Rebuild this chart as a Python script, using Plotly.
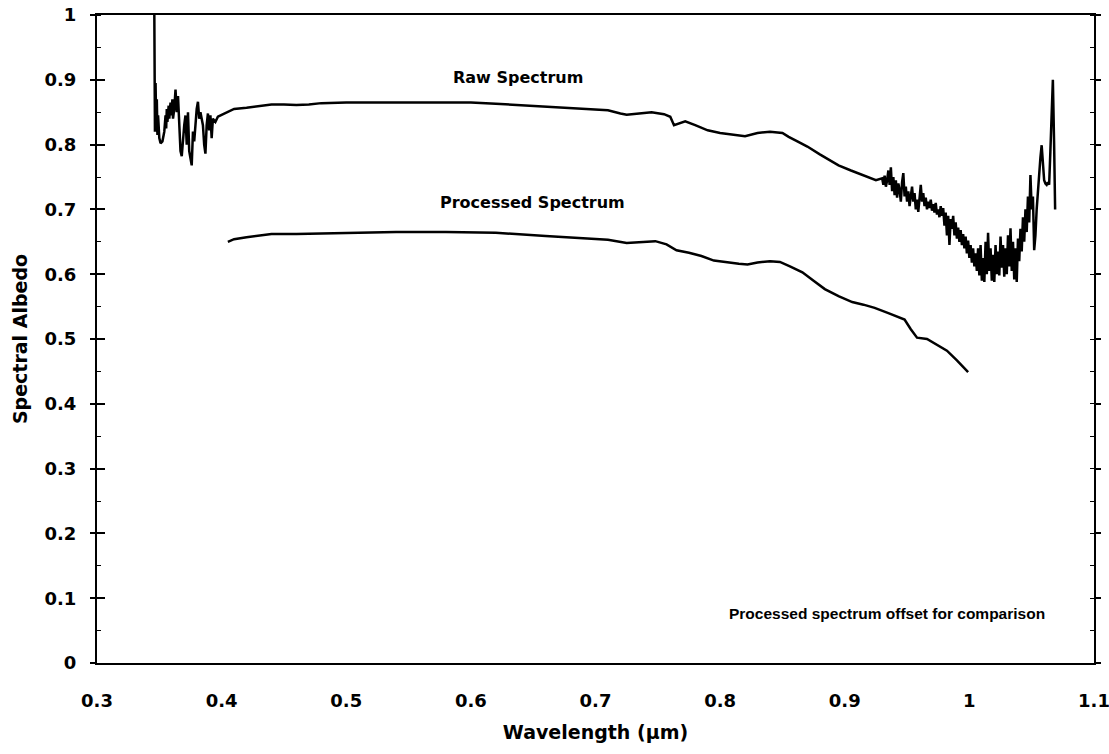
import plotly.graph_objects as go

# ---- data ----
raw_wavelength = [
    0.3460, 0.3462, 0.3465, 0.3470, 0.3475, 0.3480, 0.3485, 0.3490, 0.3500, 0.3510,
    0.3525, 0.3540, 0.3550, 0.3555, 0.3560, 0.3565, 0.3575, 0.3580, 0.3590, 0.3595,
    0.3605, 0.3610, 0.3620, 0.3630, 0.3640, 0.3650, 0.3660, 0.3670, 0.3680, 0.3690,
    0.3700, 0.3710, 0.3720, 0.3730, 0.3740, 0.3760, 0.3770, 0.3780, 0.3790, 0.3800,
    0.3810, 0.3820, 0.3830, 0.3850, 0.3860, 0.3870, 0.3880, 0.3890, 0.3900, 0.3910,
    0.3920, 0.3930, 0.3950, 0.3970, 0.4000, 0.4050, 0.4100, 0.4200, 0.4300, 0.4400,
    0.4500, 0.4600, 0.4700, 0.4800, 0.5000, 0.5200, 0.5400, 0.5600, 0.5800, 0.6000,
    0.6200, 0.6400, 0.6600, 0.6800, 0.7000, 0.7100, 0.7200, 0.7250, 0.7350, 0.7450,
    0.7550, 0.7600, 0.7630, 0.7660, 0.7720, 0.7800, 0.7900, 0.8000, 0.8100, 0.8200,
    0.8300, 0.8400, 0.8500, 0.8550, 0.8620, 0.8700, 0.8800, 0.8870, 0.8950, 0.9050,
    0.9150, 0.9250,
    0.930, 0.931, 0.932, 0.933, 0.934, 0.935, 0.936, 0.937, 0.938, 0.939,
    0.940, 0.941, 0.942, 0.943, 0.944, 0.945, 0.946, 0.947, 0.948, 0.949,
    0.950, 0.951, 0.952, 0.953, 0.954, 0.955, 0.956, 0.957, 0.958, 0.959,
    0.960, 0.961, 0.962, 0.963, 0.964, 0.965, 0.966, 0.967, 0.968, 0.969,
    0.970, 0.971, 0.972, 0.973, 0.974, 0.975, 0.976, 0.977, 0.978, 0.979,
    0.980, 0.981, 0.982, 0.983, 0.984, 0.985, 0.986, 0.987, 0.988, 0.989,
    0.990, 0.991, 0.992, 0.993, 0.994, 0.995, 0.996, 0.997, 0.998, 0.999,
    1.000, 1.001, 1.002, 1.003, 1.004, 1.005, 1.006, 1.007, 1.008, 1.009,
    1.010, 1.011, 1.012, 1.013, 1.014, 1.015, 1.016, 1.017, 1.018, 1.019,
    1.020, 1.021, 1.022, 1.023, 1.024, 1.025, 1.026, 1.027, 1.028, 1.029,
    1.030, 1.031, 1.032, 1.033, 1.034, 1.035, 1.036, 1.037, 1.038, 1.039,
    1.040, 1.041, 1.042, 1.043, 1.044, 1.045, 1.046, 1.047, 1.048, 1.049,
    1.050, 1.051, 1.052, 1.053, 1.054, 1.055, 1.056, 1.057, 1.058, 1.059,
    1.060, 1.061, 1.062, 1.063, 1.064, 1.065, 1.066, 1.067, 1.068, 1.0688,
]
raw_albedo = [
    1.000, 0.880, 0.820, 0.895, 0.830, 0.870, 0.815, 0.845, 0.810, 0.802,
    0.805, 0.820, 0.845, 0.825, 0.855, 0.835, 0.860, 0.840, 0.865, 0.845,
    0.870, 0.840, 0.855, 0.885, 0.850, 0.875, 0.820, 0.790, 0.782, 0.810,
    0.830, 0.845, 0.800, 0.850, 0.790, 0.768, 0.820, 0.805, 0.840, 0.855,
    0.866, 0.840, 0.850, 0.830, 0.800, 0.786, 0.830, 0.848, 0.822, 0.845,
    0.810, 0.840, 0.835, 0.843, 0.846, 0.851, 0.855, 0.857, 0.860, 0.862,
    0.862, 0.861, 0.862, 0.864, 0.865, 0.865, 0.866, 0.866, 0.866, 0.865,
    0.863, 0.861, 0.858, 0.856, 0.854, 0.853, 0.848, 0.846, 0.848, 0.850,
    0.847, 0.843, 0.830, 0.832, 0.836, 0.830, 0.822, 0.818, 0.816, 0.813,
    0.818, 0.820, 0.818, 0.812, 0.805, 0.797, 0.785, 0.777, 0.768, 0.760,
    0.752, 0.745,
    0.748, 0.738, 0.752, 0.735, 0.745, 0.760, 0.738, 0.765, 0.728, 0.750,
    0.722, 0.745, 0.718, 0.740, 0.730, 0.712, 0.742, 0.756, 0.720, 0.735,
    0.712, 0.728, 0.705, 0.725, 0.735, 0.712, 0.725, 0.700, 0.715, 0.696,
    0.722, 0.738, 0.712, 0.725, 0.705, 0.718, 0.700, 0.712, 0.702, 0.715,
    0.698, 0.708, 0.695, 0.710, 0.692, 0.700, 0.688, 0.705, 0.690, 0.702,
    0.675, 0.695, 0.660, 0.690, 0.645, 0.685, 0.670, 0.690, 0.660, 0.680,
    0.655, 0.672, 0.650, 0.668, 0.645, 0.662, 0.640, 0.658, 0.632, 0.652,
    0.625, 0.645, 0.618, 0.640, 0.612, 0.632, 0.605, 0.640, 0.598, 0.645,
    0.590, 0.625, 0.588, 0.650, 0.600, 0.664, 0.605, 0.640, 0.590, 0.630,
    0.588, 0.645, 0.600, 0.635, 0.598, 0.658, 0.610, 0.645, 0.596, 0.640,
    0.600, 0.660, 0.612, 0.671, 0.605, 0.650, 0.592, 0.640, 0.588, 0.655,
    0.620, 0.670, 0.635, 0.688, 0.650, 0.700, 0.665, 0.720, 0.680, 0.753,
    0.700, 0.720, 0.637, 0.660, 0.700, 0.730, 0.750, 0.780, 0.799, 0.770,
    0.745, 0.740, 0.738, 0.742, 0.738, 0.790, 0.860, 0.900, 0.800, 0.700,
]

processed_wavelength = [
    0.405, 0.410, 0.420, 0.430, 0.440, 0.460, 0.480, 0.500, 0.540, 0.580,
    0.620, 0.660, 0.690, 0.710, 0.725, 0.735, 0.748, 0.757, 0.765, 0.775,
    0.785, 0.795, 0.805, 0.815, 0.822, 0.830, 0.840, 0.848, 0.856, 0.866,
    0.875, 0.884, 0.895, 0.906, 0.915, 0.924, 0.935, 0.948, 0.953, 0.958,
    0.966, 0.975, 0.982, 0.990, 0.999,
]
processed_albedo = [
    0.650, 0.654, 0.657, 0.660, 0.662, 0.662, 0.663, 0.664, 0.665, 0.665,
    0.664, 0.659, 0.655, 0.653, 0.648, 0.649, 0.651, 0.646, 0.637, 0.633,
    0.628, 0.621, 0.618, 0.616, 0.615, 0.618, 0.620, 0.619, 0.612, 0.603,
    0.590, 0.577, 0.566, 0.557, 0.553, 0.548, 0.540, 0.530, 0.515, 0.502,
    0.500, 0.490, 0.482, 0.467, 0.449,
]

x_ticks = [0.3, 0.4, 0.5, 0.6, 0.7, 0.8, 0.9, 1.0, 1.1]
y_ticks = [0, 0.1, 0.2, 0.3, 0.4, 0.5, 0.6, 0.7, 0.8, 0.9, 1.0]

TICK_FONT = dict(family="DejaVu Sans", size=18, color="black", weight="bold")
TITLE_FONT = dict(family="DejaVu Sans", size=19, color="black", weight="bold")

fig = go.Figure()
fig.add_trace(go.Scatter(x=raw_wavelength, y=raw_albedo, mode="lines",
                         line=dict(color="black", width=2.5), showlegend=False,
                         name="Raw Spectrum"))
fig.add_trace(go.Scatter(x=processed_wavelength, y=processed_albedo, mode="lines",
                         line=dict(color="black", width=2.5), showlegend=False,
                         name="Processed Spectrum"))
# invisible trace to activate the overlay axis (inside major ticks)
fig.add_trace(go.Scatter(x=[0.3], y=[0], mode="markers", marker=dict(opacity=0),
                         yaxis="y2", showlegend=False, hoverinfo="skip"))

fig.update_layout(
    width=1109, height=754,
    margin=dict(l=97, r=15, t=15, b=91),
    plot_bgcolor="white", paper_bgcolor="white",
    xaxis=dict(
        range=[0.3, 1.1], tickvals=x_ticks, ticktext=[("%g" % v) for v in x_ticks],
        showgrid=False, zeroline=False, showline=True, linecolor="black", linewidth=2,
        mirror=True, ticks="", tickfont=TICK_FONT, ticklabelstandoff=20,
        automargin=False, ticklabeloverflow="allow",
        title=dict(text="Wavelength (µm)", font=TITLE_FONT, standoff=16),
    ),
    yaxis=dict(
        range=[0, 1], tickvals=y_ticks, ticktext=[("%g" % v) for v in y_ticks],
        showgrid=False, zeroline=False, showline=True, linecolor="black", linewidth=2,
        mirror="ticks", ticks="outside", ticklen=5, tickwidth=1.5, tickcolor="black",
        minor=dict(ticks="inside", dtick=0.05, tick0=0, ticklen=4, tickwidth=1.2,
                   tickcolor="black", showgrid=False),
        tickfont=TICK_FONT, ticklabelstandoff=10, automargin=False,
        ticklabeloverflow="allow",
        title=dict(text="Spectral Albedo", font=TITLE_FONT, standoff=12),
    ),
    yaxis2=dict(
        range=[0, 1], overlaying="y", side="left", tickvals=y_ticks,
        showticklabels=False, ticks="inside", ticklen=8, tickwidth=1.5,
        tickcolor="black", showgrid=False, zeroline=False, showline=False,
        automargin=False,
    ),
    annotations=[
        dict(x=0.638, y=0.904, xref="x", yref="y", text="Raw Spectrum", showarrow=False,
             font=dict(family="DejaVu Sans", size=16, color="black", weight="bold")),
        dict(x=0.6495, y=0.71, xref="x", yref="y", text="Processed Spectrum", showarrow=False,
             font=dict(family="DejaVu Sans", size=16, color="black", weight="bold")),
        dict(x=0.934, y=0.077, xref="x", yref="y",
             text="Processed spectrum offset for comparison", showarrow=False,
             font=dict(family="Liberation Sans", size=15.5, color="black", weight="bold")),
    ],
)

fig.write_html("out.html")
